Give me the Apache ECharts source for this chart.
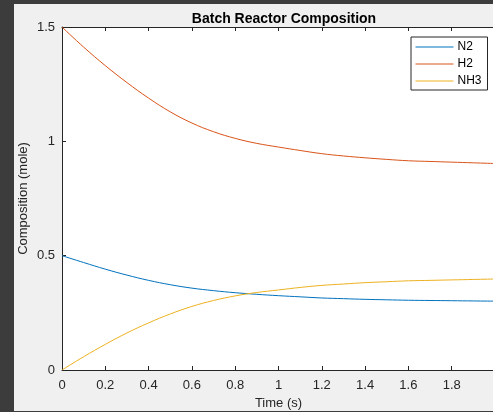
<!DOCTYPE html>
<html>
<head>
<meta charset="utf-8">
<script src="https://cdn.jsdelivr.net/npm/echarts@6/dist/echarts.min.js"></script>
<style>
  html, body { margin: 0; padding: 0; background: #3c3c3c; width: 493px; height: 412px; overflow: hidden; }
  #chart { position: absolute; left: 14px; top: 4px; width: 479px; height: 407px; }
</style>
</head>
<body>
<div id="chart"></div>
<script>
var chart = echarts.init(document.getElementById('chart'));

// time (s)
var times = [0, 0.1, 0.2, 0.3, 0.4, 0.5, 0.6, 0.7, 0.8, 0.9, 1.0,
             1.1, 1.2, 1.3, 1.4, 1.5, 1.6, 1.7, 1.8, 1.9, 2.0];
// composition (mole)
var n2  = [0.5, 0.47, 0.441, 0.415, 0.392, 0.373, 0.358, 0.347, 0.338, 0.331, 0.325,
           0.320, 0.315, 0.312, 0.309, 0.307, 0.305, 0.304, 0.303, 0.302, 0.301];
var h2  = [1.5, 1.412, 1.331, 1.257, 1.189, 1.129, 1.080, 1.042, 1.013, 0.991, 0.975,
           0.960, 0.946, 0.936, 0.928, 0.921, 0.915, 0.912, 0.909, 0.906, 0.903];
var nh3 = [0, 0.058, 0.112, 0.162, 0.206, 0.245, 0.278, 0.304, 0.324, 0.339, 0.35,
           0.361, 0.37, 0.376, 0.382, 0.386, 0.39, 0.392, 0.394, 0.396, 0.398];
var names = ['N2', 'H2', 'NH3'];
var colors = ['#0072BD', '#D95319', '#EDB120'];

function pairs(vals) {
    return times.map(function (t, i) { return [t, vals[i]]; });
}

var font = 'Liberation Sans, Arial, sans-serif';
var axisCol = '#262626';

var option = {
    backgroundColor: '#f0f0f0',
    animation: false,
    title: {
        text: 'Batch Reactor Composition',
        left: 265, top: 3, textAlign: 'center',
        textStyle: { fontFamily: font, fontSize: 14, fontWeight: 'bold', color: '#000' }
    },
    legend: {
        data: names,
        orient: 'vertical',
        left: 397, top: 33,
        padding: [4, 6, 3, 4],
        itemWidth: 38, itemHeight: 12, itemGap: 5,
        backgroundColor: '#fff',
        borderColor: '#262626', borderWidth: 1,
        itemStyle: { opacity: 0 },
        lineStyle: { width: 1 },
        textStyle: { fontFamily: font, fontSize: 12, color: '#000', padding: [0, 0, 0, -1] }
    },
    grid: {
        left: 48, top: 23, width: 433, height: 343,
        outerBoundsMode: 'none', containLabel: false,
        backgroundColor: '#fff', show: true, borderWidth: 0
    },
    xAxis: [{
        type: 'value', min: 0, max: 2, interval: 0.2,
        name: 'Time (s)', nameLocation: 'middle', nameGap: 27, nameMoveOverlap: false,
        nameTextStyle: { fontFamily: font, fontSize: 13, color: axisCol },
        axisLine: { show: true, lineStyle: { color: axisCol, width: 1 } },
        axisTick: { show: true, inside: true, length: 4, lineStyle: { color: axisCol } },
        axisLabel: { fontFamily: font, fontSize: 13, color: axisCol, margin: 9, showMaxLabel: false },
        splitLine: { show: false }
    }, {
        type: 'value', min: 0, max: 2, interval: 0.2, position: 'top',
        axisLine: { show: true, lineStyle: { color: axisCol, width: 1 } },
        axisTick: { show: true, inside: true, length: 4, lineStyle: { color: axisCol } },
        axisLabel: { show: false },
        splitLine: { show: false }
    }],
    yAxis: [{
        type: 'value', min: 0, max: 1.5, interval: 0.5,
        name: 'Composition (mole)', nameLocation: 'middle', nameGap: 32, nameMoveOverlap: false,
        nameTextStyle: { fontFamily: font, fontSize: 13, color: axisCol },
        axisLine: { show: true, lineStyle: { color: axisCol, width: 1 } },
        axisTick: { show: true, inside: true, length: 4, lineStyle: { color: axisCol } },
        axisLabel: { fontFamily: font, fontSize: 13, color: axisCol, margin: 7 },
        splitLine: { show: false }
    }],
    series: [n2, h2, nh3].map(function (vals, i) {
        return {
            name: names[i], type: 'line', data: pairs(vals),
            smooth: 0.4, symbol: 'none',
            lineStyle: { width: 1, color: colors[i] },
            itemStyle: { color: colors[i] }
        };
    })
};
chart.setOption(option);
</script>
</body>
</html>
